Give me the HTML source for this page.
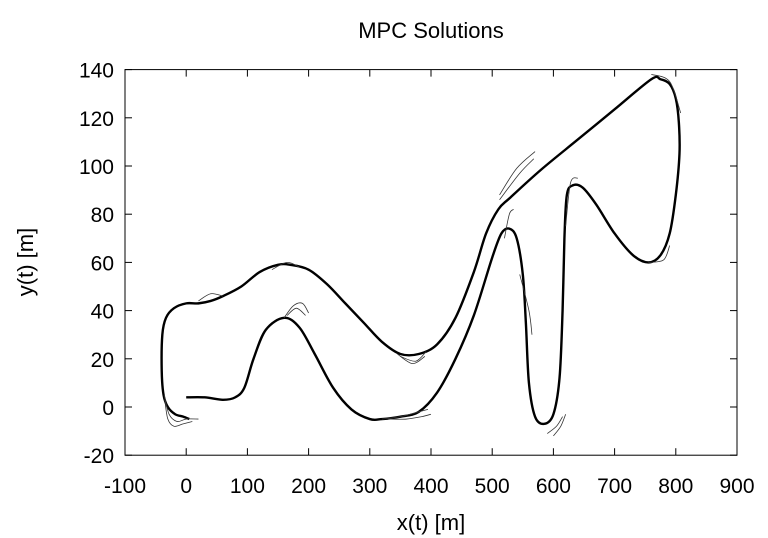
<!DOCTYPE html>
<html><head><meta charset="utf-8"><style>
body{margin:0;background:#fff;}
svg{display:block;font-family:"Liberation Sans",sans-serif;}
</style></head><body>
<svg id="chart" width="768" height="538">
<text x="431" y="38" font-size="22" text-anchor="middle">MPC Solutions</text>
<g id="axes"></g>
<g id="marks" fill="none" stroke="#000" stroke-linejoin="round"></g>
<text x="431" y="530" font-size="22" text-anchor="middle">x(t) [m]</text>
<text transform="translate(33,262) rotate(-90)" font-size="22" text-anchor="middle">y(t) [m]</text>
</svg>
<script>
const xTicks=[-100,0,100,200,300,400,500,600,700,800,900];
const yTicks=[-20,0,20,40,60,80,100,120,140];
const trackX=[0,30,60,80,95,110,130,160,185,210,240,270,300,320,350,380,410,440,470,500,515,528,540,550,555,560,570,585,600,610,615,618,622,632,648,670,700,730,755,775,790,800,806,805,800,790,775,760,700,640,580,530,510,490,470,440,410,380,350,320,290,260,230,200,170,150,120,90,60,40,20,0,-20,-33,-39,-40,-37,-30,-18,-5,5];
const trackY=[4,4,3,4,8,20,32,37,33,22,8,-1,-5,-5,-4,-2,6,20,38,62,72,74,70,55,35,10,-4,-7,-3,12,40,70,88,92,91,84,72,63,60,63,72,88,105,118,128,134,136,136,123.5,111,98.5,87,82,72,56,37,26,22,22,27,35,43,51,57,59,59,56,50,46,44,43,43,41,37,30,15,5,0,-3,-4,-5];
const fanX=[[-35,-30,-20,-5,10],[-36,-28,-15,0,20],[160,175,190,200],[165,180,195],[330,360,385,400],[320,350,380,395],[345,370,390],[350,375,392],[520,528,535],[512,540,570],[512,545,568],[545,560,565],[600,612,620],[590,605,615],[620,628,640],[755,780,790],[760,790,808],[140,165,185],[20,40,60]];
const fanY=[[3,-5,-8,-7,-6],[5,-3,-6,-5,-5],[37,42,43,39],[38,41,38],[-5,-5,-4,-3],[-5,-4,-2,-1],[22,18,21],[21,19,23],[70,80,82],[88,99,106],[86,97,103],[55,40,30],[-12,-8,-3],[-11,-8,-4],[75,93,95],[60,61,67],[138,135,122],[57,60,58],[44,47,46]];
const X=v=>125+(v+100)*0.612, Y=v=>407-v*2.41;
const NS="http://www.w3.org/2000/svg";
const ax=document.getElementById('axes'), mk=document.getElementById('marks');
function el(t,a,p){const e=document.createElementNS(NS,t);for(const k in a)e.setAttribute(k,a[k]);p.appendChild(e);return e;}
const frame=el('rect',{x:125,y:Y(140),width:612,height:Y(-20)-Y(140),fill:'none',stroke:'#000','stroke-width':1},ax);


xTicks.forEach(v=>{const x=X(v);
 el('line',{x1:x,x2:x,y1:Y(-20),y2:Y(-20)-7,stroke:'#000'},ax);
 el('line',{x1:x,x2:x,y1:Y(140),y2:Y(140)+7,stroke:'#000'},ax);
 const t=el('text',{x:x,y:493,'font-size':21,'text-anchor':'middle'},ax);t.textContent=v;
 
 });
yTicks.forEach(v=>{const y=Y(v);
 el('line',{x1:125,x2:132,y1:y,y2:y,stroke:'#000'},ax);
 el('line',{x1:737,x2:730,y1:y,y2:y,stroke:'#000'},ax);
 const t=el('text',{x:114,y:y+8,'font-size':21,'text-anchor':'end'},ax);t.textContent=v;
 
 });
function smooth(xs,ys){const P=xs.map((x,i)=>[X(x),Y(ys[i])]);let d='M'+P[0][0]+','+P[0][1];
 for(let i=0;i<P.length-1;i++){const p0=P[Math.max(i-1,0)],p1=P[i],p2=P[i+1],p3=P[Math.min(i+2,P.length-1)];
 d+=' C'+(p1[0]+(p2[0]-p0[0])/6)+','+(p1[1]+(p2[1]-p0[1])/6)+' '+(p2[0]-(p3[0]-p1[0])/6)+','+(p2[1]-(p3[1]-p1[1])/6)+' '+p2[0]+','+p2[1];}
 return d;}
const tr=el('path',{d:smooth(trackX,trackY),'stroke-width':2.4},mk);


fanX.forEach((xs,i)=>{const p=el('path',{d:smooth(xs,fanY[i]),'stroke-width':0.8,stroke:'#333'},mk);
 
 });
</script>
</body></html>
